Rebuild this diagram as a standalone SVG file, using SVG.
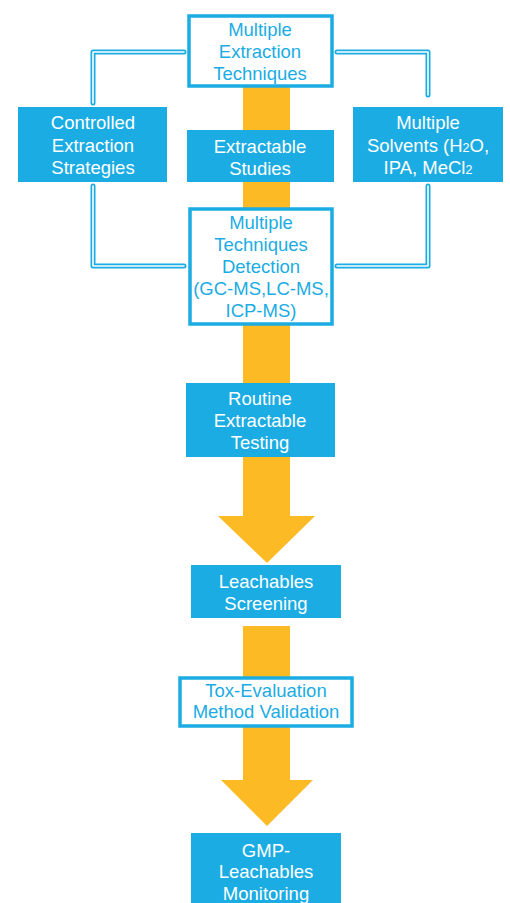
<svg xmlns="http://www.w3.org/2000/svg" width="510" height="903" viewBox="0 0 510 903">
<style>
.bar{fill:#FCBB25}
.solid{fill:#1BACE3}
.outl{fill:#fff;stroke:#1BACE3;stroke-width:3.5}
.c1{fill:none;stroke:#1BACE3;stroke-width:5;stroke-linecap:round;stroke-linejoin:round}
.c2{fill:none;stroke:#fff;stroke-width:1.6;stroke-linecap:round;stroke-linejoin:round}
text{font-family:"Liberation Sans","DejaVu Sans",sans-serif;font-size:18.5px;text-anchor:middle}
.w{fill:#fff}
.b{fill:#1BACE3}
</style>
<g id="flow-bars">
<rect class="bar" x="243" y="85" width="47" height="432"/>
<polygon class="bar" points="218,516 315,516 267,563"/>
<rect class="bar" x="243" y="626" width="47" height="155"/>
<polygon class="bar" points="221,780 313,780 267,826"/>
</g>
<g id="connectors">
<path class="c1" d="M184,52 H93 V103"/>
<path class="c2" d="M184,52 H93 V103"/>
<path class="c1" d="M337,52 H428 V95"/>
<path class="c2" d="M337,52 H428 V95"/>
<path class="c1" d="M93,186 V266 H184"/>
<path class="c2" d="M93,186 V266 H184"/>
<path class="c1" d="M428,186 V266 H337"/>
<path class="c2" d="M428,186 V266 H337"/>
</g>
<g id="n-multiple-extraction">
<rect class="outl" x="189" y="16" width="143" height="70"/>
<text class="b" x="260" y="36">Multiple</text>
<text class="b" x="260" y="58">Extraction</text>
<text class="b" x="260" y="80">Techniques</text>
</g>
<g id="n-controlled">
<rect class="solid" x="18" y="107" width="149" height="75"/>
<text class="w" x="93" y="129">Controlled</text>
<text class="w" x="93" y="152">Extraction</text>
<text class="w" x="93" y="174">Strategies</text>
</g>
<g id="n-extractable-studies">
<rect class="solid" x="187" y="130" width="147" height="52"/>
<text class="w" x="260" y="153">Extractable</text>
<text class="w" x="260" y="175">Studies</text>
</g>
<g id="n-solvents">
<rect class="solid" x="353" y="107" width="150" height="75"/>
<text class="w" x="428" y="129">Multiple</text>
<text class="w" x="428" y="152">Solvents (H<tspan font-size="12.5">2</tspan>O,</text>
<text class="w" x="428" y="174">IPA, MeCl<tspan font-size="12.5">2</tspan></text>
</g>
<g id="n-detection">
<rect class="outl" x="190" y="209" width="142" height="115"/>
<text class="b" x="261" y="229">Multiple</text>
<text class="b" x="261" y="251">Techniques</text>
<text class="b" x="261" y="273">Detection</text>
<text class="b" x="261" y="295">(GC-MS,LC-MS,</text>
<text class="b" x="261" y="317">ICP-MS)</text>
</g>
<g id="n-routine">
<rect class="solid" x="186" y="383" width="149" height="74"/>
<text class="w" x="260" y="405">Routine</text>
<text class="w" x="260" y="427">Extractable</text>
<text class="w" x="260" y="449">Testing</text>
</g>
<g id="n-leachables-screening">
<rect class="solid" x="191" y="565" width="150" height="53"/>
<text class="w" x="266" y="588">Leachables</text>
<text class="w" x="266" y="610">Screening</text>
</g>
<g id="n-tox">
<rect class="outl" x="180" y="678" width="172" height="48"/>
<text class="b" x="266" y="697">Tox-Evaluation</text>
<text class="b" x="266" y="718">Method Validation</text>
</g>
<g id="n-gmp">
<rect class="solid" x="191" y="833" width="150" height="75"/>
<text class="w" x="266" y="857">GMP-</text>
<text class="w" x="266" y="878">Leachables</text>
<text class="w" x="266" y="900">Monitoring</text>
</g>
</svg>
